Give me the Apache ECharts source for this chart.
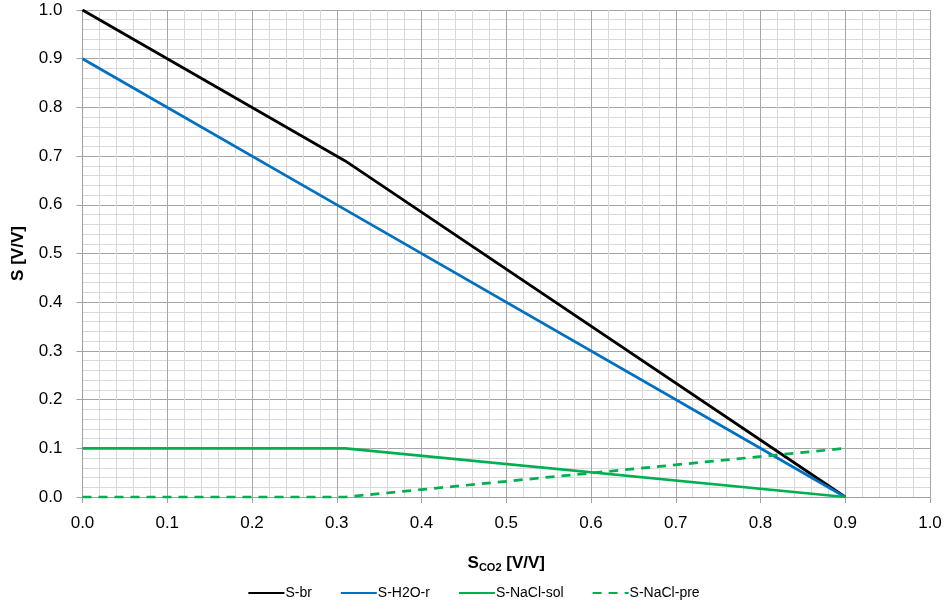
<!DOCTYPE html>
<html>
<head>
<meta charset="utf-8">
<script src="https://cdn.jsdelivr.net/npm/echarts@6/dist/echarts.min.js"></script>
<style>
  html, body { margin: 0; padding: 0; background: #fff; }
  #chart { width: 947px; height: 611px; }
</style>
</head>
<body>
<div id="chart"></div>
<script>
// saturation values
var sCO2 = [0, 0.31, 0.9];
var sBr = [1.0, 0.69, 0];
var sH2O = [0.9, 0.59, 0];
var sNaClSol = [0.1, 0.1, 0];
var sNaClPre = [0, 0, 0.1];

var seriesNames = ['S-br', 'S-H2O-r', 'S-NaCl-sol', 'S-NaCl-pre'];
var seriesColors = ['#000000', '#0070c0', '#00b050', '#00b050'];
var seriesData = [sBr, sH2O, sNaClSol, sNaClPre];

function pairs(ys) {
    var out = [];
    for (var i = 0; i < sCO2.length; i++) {
        out.push([sCO2[i], ys[i]]);
    }
    return out;
}

var fontName = 'Liberation Sans';
var chart = echarts.init(document.getElementById('chart'));

var series = [];
for (var i = 0; i < seriesNames.length; i++) {
    series.push({
        name: seriesNames[i],
        type: 'line',
        symbol: 'none',
        color: seriesColors[i],
        lineStyle: {
            width: 2.75,
            color: seriesColors[i],
            type: i === 3 ? [9, 7] : 'solid'
        },
        data: pairs(seriesData[i])
    });
}

function axisBase() {
    return {
        type: 'value',
        min: 0,
        max: 1,
        interval: 0.1,
        axisLine: { show: true, lineStyle: { color: '#a0a0a0', width: 1 } },
        axisTick: { show: true, length: 6, lineStyle: { color: '#a0a0a0' } },
        minorTick: { show: false, splitNumber: 5 },
        splitLine: { show: true, lineStyle: { color: '#a6a6a6', width: 1 } },
        minorSplitLine: { show: true, lineStyle: { color: '#d9d9d9', width: 1 } },
        axisLabel: {
            color: '#000',
            fontFamily: fontName,
            fontSize: 17,
            formatter: function (v) { return v.toFixed(1); }
        }
    };
}

var xAxis = axisBase();
xAxis.axisLabel.margin = 18;
xAxis.name = '{b|S}{s|CO2}{b| [V/V]}';
xAxis.nameLocation = 'middle';
xAxis.nameGap = 56;
xAxis.nameTextStyle = {
    rich: {
        b: { fontFamily: fontName, fontSize: 17, fontWeight: 'bold', color: '#000' },
        s: { fontFamily: fontName, fontSize: 11, fontWeight: 'bold', color: '#000', verticalAlign: 'bottom', padding: [9, 0, 0, 0] }
    }
};

var yAxis = axisBase();
yAxis.axisLabel.margin = 20;
yAxis.name = 'S [V/V]';
yAxis.nameLocation = 'middle';
yAxis.nameGap = 56;
yAxis.nameTextStyle = { fontFamily: fontName, fontSize: 17, fontWeight: 'bold', color: '#000' };

chart.setOption({
    backgroundColor: '#fff',
    animation: false,
    grid: {
        left: 82.5,
        right: 17,
        top: 10,
        bottom: 114,
        outerBoundsMode: 'none'
    },
    legend: {
        data: seriesNames,
        bottom: 6,
        left: 'center',
        itemWidth: 36,
        itemHeight: 12,
        itemGap: 28,
        itemStyle: { opacity: 0 },
        textStyle: { fontFamily: fontName, fontSize: 14, color: '#000', padding: [0, 0, 0, -4] }
    },
    xAxis: xAxis,
    yAxis: yAxis,
    series: series
});

window.addEventListener('resize', function () {
    chart.resize();
});
</script>
</body>
</html>
